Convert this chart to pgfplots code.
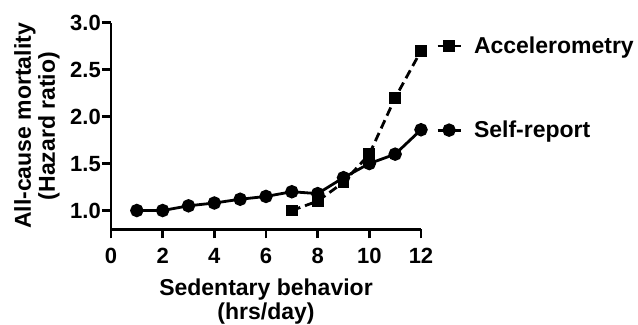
\documentclass[border=0pt]{standalone}
\usepackage{pgfplots}
\pgfplotsset{compat=1.18}
\usepackage{fontspec}
\setmainfont{Liberation Sans}
\begin{document}
\begin{tikzpicture}
\begin{axis}[
  scale only axis, width=310pt, height=206.6pt,
  xmin=0, xmax=12, ymin=0.8, ymax=3.0,
  axis x line*=bottom, axis y line*=left,
  axis line style={line width=2.5pt, -},
  xtick={0,2,...,12}, ytick={1.0,1.5,...,3.0},
  yticklabel style={/pgf/number format/.cd, fixed, fixed zerofill, precision=1},
  xticklabel style={yshift=-9pt},
  /pgf/number format/assume math mode=true,
  tick style={line width=2.5pt, black},
  tick align=outside, major tick length=9pt,
  ticklabel style={font=\fontsize{22}{24}\selectfont\bfseries, inner sep=1pt},
  xlabel={Sedentary behavior\\(hrs/day)},
  ylabel={All-cause mortality\\(Hazard ratio)},
  label style={font=\fontsize{23}{24}\selectfont\bfseries, align=center},
  xlabel style={yshift=-10.5pt},
  ylabel shift=6pt,
  clip=false,
  legend style={at={(1,1)}, anchor=north west, xshift=12pt, yshift=-10pt,
    draw=none, fill=none, font=\fontsize{23}{24}\selectfont\bfseries,
    row sep=62pt, cells={anchor=west}},
  legend image code/.code={\draw[mark repeat=2,mark phase=2,#1,solid] plot coordinates {(0pt,0pt) (11.5pt,0pt) (23pt,0pt)};
    \path (33pt,0pt);},
]
\addplot[black, line width=2.8pt, dash pattern=on 9pt off 5pt, mark=square*, mark size=4.5pt, mark options={solid}]
  coordinates {(7,1.0) (8,1.1) (9,1.3) (10,1.6) (11,2.2) (12,2.7)};
\addlegendentry{Accelerometry}
\addplot[black, line width=2.8pt, mark=*, mark size=5.3pt, mark options={solid}]
  coordinates {(1,1.0) (2,1.0) (3,1.05) (4,1.08) (5,1.12) (6,1.15) (7,1.2) (8,1.18) (9,1.35) (10,1.5) (11,1.6) (12,1.86)};
\addlegendentry{Self-report}
\end{axis}
\pgfresetboundingbox
\path[use as bounding box] ([xshift=-111pt,yshift=22.7pt]current axis.north west) rectangle ([xshift=217pt,yshift=-95.7pt]current axis.south east);
\end{tikzpicture}
\end{document}
